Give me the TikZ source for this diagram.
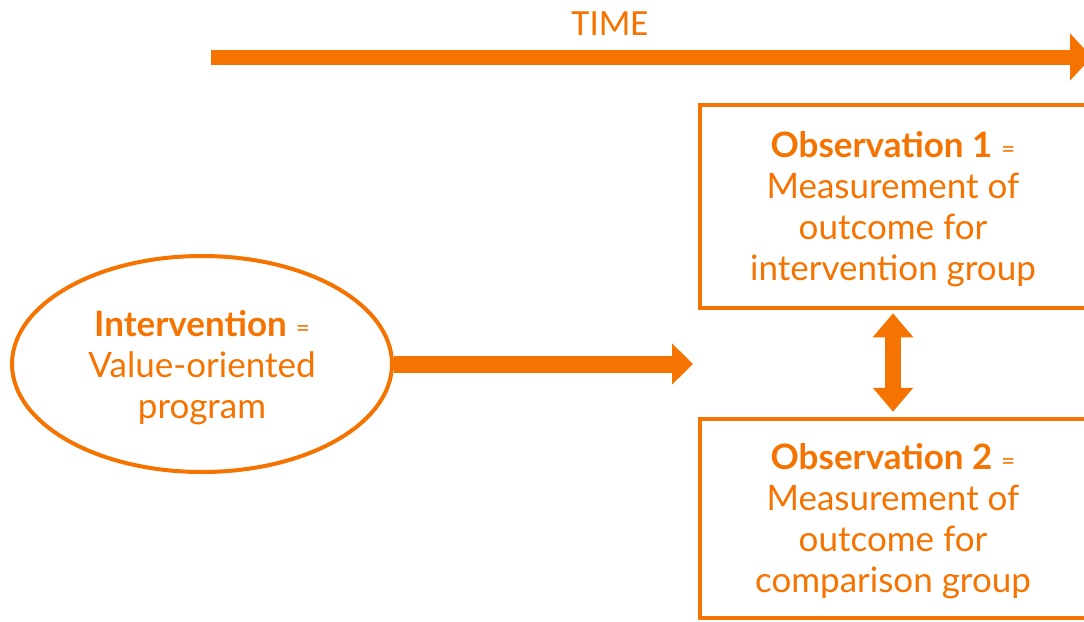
\documentclass[tikz,border=0pt]{standalone}
\usepackage{fontspec}
\setmainfont{Lato}
\newfontfamily\timefont{Carlito}
\usetikzlibrary{arrows.meta,shapes.geometric}
\definecolor{brandorange}{HTML}{F57300}
\newcommand{\eqmark}{{\fontsize{24}{41}\selectfont=}}
\begin{document}
\begin{tikzpicture}[x=1pt,y=-1pt,
  every node/.style={text=brandorange, font=\fontsize{35}{41}\selectfont},
  label text/.style={align=center, inner sep=0pt},
  obsbox/.style={draw=brandorange, line width=4.5pt, rectangle, minimum width=386pt, inner sep=0pt},
  ovalbox/.style={draw=brandorange, line width=4pt, ellipse, minimum width=380pt, minimum height=216pt, inner sep=0pt},
  bigarrow/.style={draw=brandorange, line width=17pt, -{Triangle[width=40pt,length=21pt]}},
  timearrow/.style={draw=brandorange, line width=15pt, -{Triangle[width=46pt,length=22pt]}},
  twoway/.style={draw=brandorange, line width=16pt, {Triangle[width=39pt,length=24pt]}-{Triangle[width=39pt,length=24pt]}}]
\useasboundingbox (0,0) rectangle (1084,621);
\clip (0,0) rectangle (1084,621);

% time axis
\node[font=\timefont\fontsize{37}{37}\selectfont] (time) at (610,24) {TIME};
\coordinate (tstart) at (211,57);
\coordinate (tend) at (1092,57);
\draw[timearrow] (tstart) -- (tend);

% intervention
\node[ovalbox] (interv) at (202,364) {};
\node[label text] (intervtxt) at ([yshift=-4pt]interv.center)
  {\textbf{Intervention} \eqmark\\Value-oriented\\program};

% observations
\node[obsbox, minimum height=203pt] (obs1) at (893,206.5) {};
\node[label text] (obs1txt) at ([yshift=-3pt]obs1.center)
  {\textbf{Observation 1} \eqmark\\Measurement of\\outcome for\\intervention group};
\node[obsbox, minimum height=199pt] (obs2) at (893,518.5) {};
\node[label text] (obs2txt) at ([yshift=-3pt]obs2.center)
  {\textbf{Observation 2} \eqmark\\Measurement of\\outcome for\\comparison group};

% connectors
\coordinate (target) at (693,364);
\draw[bigarrow] (interv.east) -- (target);
\draw[twoway, shorten <=3pt, shorten >=5pt] (obs1.south) -- (obs2.north);
\end{tikzpicture}
\end{document}
